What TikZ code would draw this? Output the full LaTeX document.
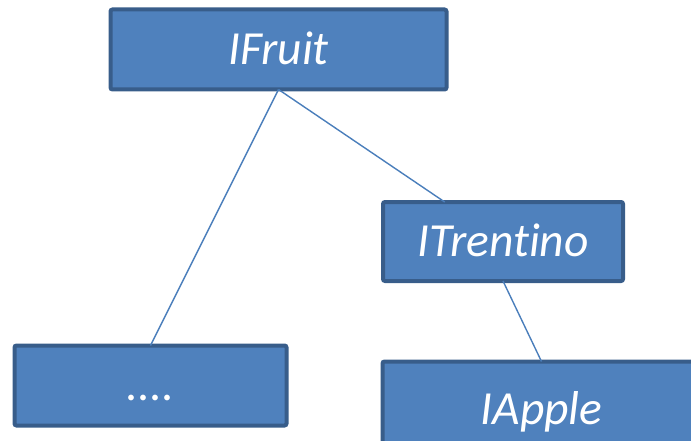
\documentclass[tikz,border=0pt]{standalone}
\usepackage{fontspec}
\setmainfont[Ligatures=NoCommon]{Carlito}
\definecolor{boxfill}{HTML}{4F81BD}
\definecolor{boxedge}{HTML}{385D8A}
\definecolor{linkcol}{HTML}{4A7EBB}
\begin{document}
\begin{tikzpicture}[x=1pt,y=-1pt,
  iface/.style={draw=boxedge, fill=boxfill, line width=4pt, rounded corners=2pt,
    inner sep=0pt, outer sep=0pt, text=white, anchor=center,
    font=\fontsize{47.5}{56}\selectfont\itshape, text height=30pt, text depth=0pt},
  link/.style={draw=linkcol, line width=1.4pt}]
  \useasboundingbox (0,0) rectangle (691,441);
  \node[iface, minimum width=336pt, minimum height=80pt] (F) at (278.5,49.5) {IFruit};
  \node[iface, minimum width=240pt, minimum height=79pt] (T) at (503,241.5) {ITrentino};
  \node[iface, minimum width=272pt, minimum height=80pt] (D) at (150.5,385.5) {....};
  \node[iface, minimum width=318pt, minimum height=96pt] (A) at (541.5,409.5) {IApple};
  \draw[link] (F.south) -- (D.north);
  \draw[link] (F.south) -- (T);
  \draw[link] (T.south) -- (A.north);
\end{tikzpicture}
\end{document}
